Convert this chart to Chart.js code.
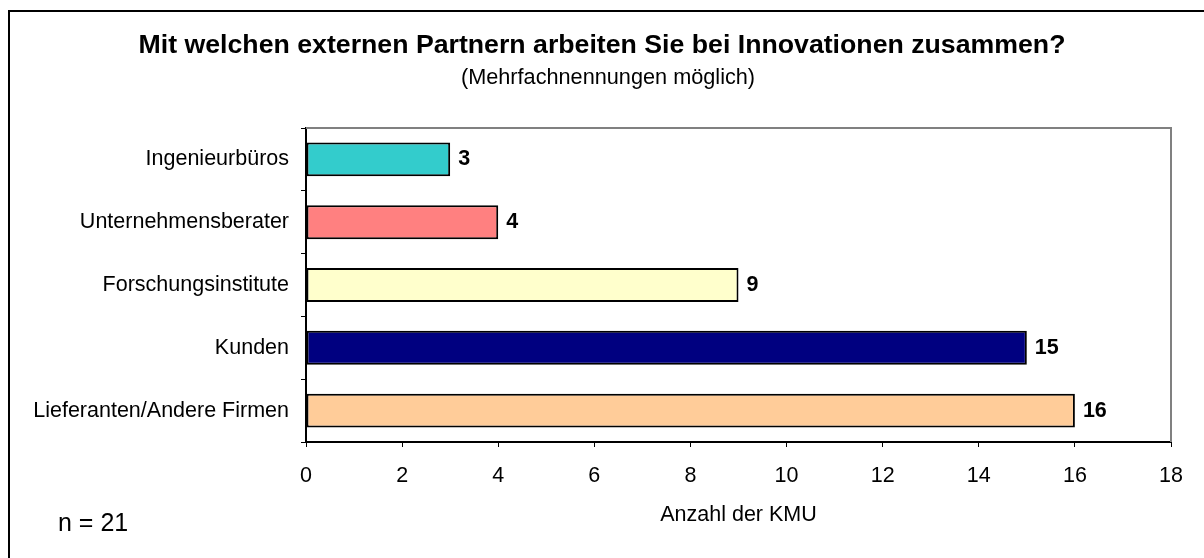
<!DOCTYPE html>
<html>
<head>
<meta charset="utf-8">
<script src="https://cdn.jsdelivr.net/npm/chart.js@4"></script>
<style>
 html,body{margin:0;padding:0;background:#fff;overflow:hidden}
 #wrap{width:1204px;height:558px;overflow:hidden}
 canvas{display:block}
</style>
</head>
<body>
<div id="wrap"><canvas id="chart" width="1204" height="558"></canvas></div>
<script>

const categories = ["Ingenieurbüros", "Unternehmensberater", "Forschungsinstitute", "Kunden", "Lieferanten/Andere Firmen"]
const values = [3, 4, 9, 15, 16]
const barColors = ["#33CCCC", "#FF8080", "#FFFFCC", "#000080", "#FFCC99"]
const xTicks = [0, 2, 4, 6, 8, 10, 12, 14, 16, 18]

const titleText = "Mit welchen externen Partnern arbeiten Sie bei Innovationen zusammen?"
const subtitleText = "(Mehrfachnennungen möglich)"
const axisTitle = "Anzahl der KMU"
const noteText = "n = 21"

const FONT = "'Liberation Sans', Arial, sans-serif"

// frame, headings, value labels, note
const decor = {
 id: "decor",
 afterDraw(chart){
  const ctx = chart.ctx
  const area = chart.chartArea
  ctx.save()

  // outer frame (top + left)
  ctx.strokeStyle = "#000"
  ctx.lineWidth = 2
  ctx.beginPath()
  ctx.moveTo(9, 558)
  ctx.lineTo(9, 11)
  ctx.lineTo(1204, 11)
  ctx.stroke()

  // grey top/right plot border
  ctx.strokeStyle = "#808080"
  ctx.lineWidth = 2
  ctx.beginPath()
  ctx.moveTo(area.left, area.top)
  ctx.lineTo(area.right, area.top)
  ctx.lineTo(area.right, area.bottom)
  ctx.stroke()

  ctx.fillStyle = "#000"
  ctx.textAlign = "center"
  ctx.textBaseline = "alphabetic"
  ctx.font = "bold 26.7px " + FONT
  ctx.fillText(titleText, 602, 53)
  ctx.font = "21.7px " + FONT
  ctx.fillText(subtitleText, 608, 84)

  ctx.textAlign = "left"
  ctx.textBaseline = "middle"
  ctx.font = "25px " + FONT
  ctx.fillText(noteText, 58, 524)

  // value labels
  ctx.font = "bold 21.5px " + FONT
  const meta = chart.getDatasetMeta(0)
  meta.data.forEach((bar, i)=>{
   ctx.fillText(String(values[i]), bar.x + 8, bar.y)
  })

  ctx.restore()
 }
}

const ctx = document.getElementById("chart").getContext("2d")

new Chart(ctx, {
 type: "bar",
 data: {
  labels: categories,
  datasets: [{
   data: values,
   backgroundColor: barColors,
   borderColor: "#000",
   borderWidth: 2,
   borderSkipped: false,
   barPercentage: 0.54,
   categoryPercentage: 1
  }]
 },
 options: {
  indexAxis: "y",
  responsive: false,
  animation: false,
  layout: { padding: { top: 128, right: 33, left: 0, bottom: 0 } },
  plugins: {
   legend: { display: false },
   title: { display: false },
   tooltip: { enabled: false }
  },
  scales: {
   x: {
    min: 0,
    max: 18,
    afterBuildTicks(scale){ scale.ticks = xTicks.map(v=>({ value: v })) },
    afterFit(scale){ scale.height = 116 },
    grid: { drawOnChartArea: false, drawTicks: true, tickLength: 5, color: "#000", lineWidth: 1 },
    border: { color: "#000", width: 2 },
    ticks: { color: "#000", font: { family: FONT, size: 21.5 }, padding: 16, maxRotation: 0 },
    title: { display: true, text: axisTitle, color: "#000", font: { family: FONT, size: 21.5 }, padding: { top: 0, bottom: 30 } }
   },
   y: {
    afterFit(scale){ scale.width = 306 },
    grid: { drawOnChartArea: false, drawTicks: true, tickLength: 5, color: "#000", lineWidth: 1, offset: true },
    border: { color: "#000", width: 2 },
    ticks: { color: "#000", font: { family: FONT, size: 21.5 }, padding: 12 }
   }
  }
 },
 plugins: [decor]
})

</script>
</body>
</html>
